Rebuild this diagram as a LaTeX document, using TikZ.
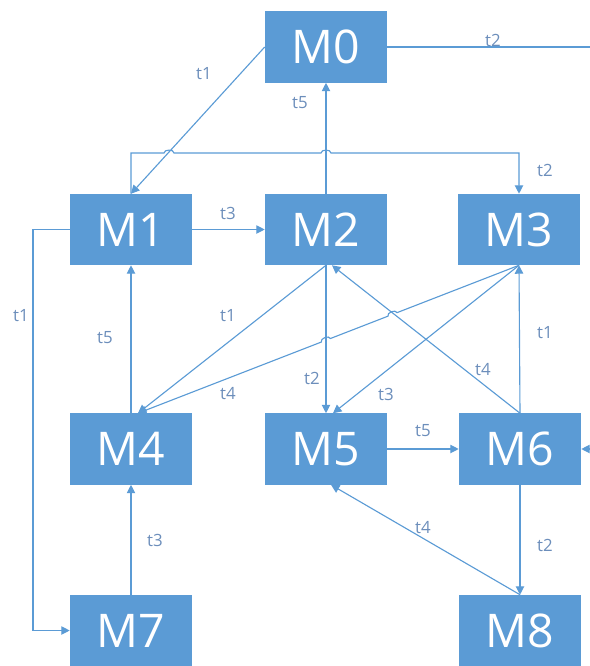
\documentclass[tikz,border=0pt]{standalone}
\usepackage{fontspec}
\setmainfont{Open Sans}
\usetikzlibrary{arrows.meta,calc}
\definecolor{boxblue}{HTML}{5B9BD5}
\definecolor{labelblue}{HTML}{6C8EBB}

\begin{document}
\begin{tikzpicture}[x=0.025cm, y=-0.025cm,
  main/.style = {fill=boxblue, text=white, inner sep=0pt, minimum width=3.05cm, minimum height=1.775cm, font=\fontsize{33}{33}\selectfont},
  edge/.style = {draw=boxblue, line width=0.8pt, -{Triangle[length=6pt,width=6pt]}},
  lbl/.style = {text=labelblue, font=\fontsize{12}{12}\selectfont}]
		\useasboundingbox (0,0) rectangle (590,666);
		\node[main] (M0) at (326,47) {M0};
		\node[main] (M1) at (131,229.5) {M1};
		\node[main] (M2) at (326,229.5) {M2};
		\node[main] (M3) at (519,229.5) {M3};
		\node[main] (M4) at (131,449) {M4};
		\node[main] (M5) at (326,449) {M5};
		\node[main] (M6) at (520,449) {M6};
		\node[main] (M7) at (131,630.5) {M7};
		\node[main] (M8) at (520,630.5) {M8};
		\coordinate (M4in) at ($(M4.north)+(7,0)$);
		\coordinate (M5in) at ($(M5.north)+(7,0)$);
		\coordinate (M2out) at ($(M2.south)+(6,0)$);
		\coordinate (M5out) at ($(M5.south)+(5,0)$);
		
		\draw[edge] (M0.west) -- (M1.north) node[lbl] at (204,74) {t1};
		\draw[edge] (M0.east) -- (598,47) node[lbl] at (493,40) {t2} |- (M6.east);
		\draw[edge] (M2.north) -- (M0.south) node[lbl] at (300,103) {t5};
		\draw[edge] (M1.north) |- (164,153) to[bend left=90] (174,153) -- (321,153) to[bend left=90] (331,153) -| (M3.north) node[lbl] at (545,170) {t2};
		\draw[edge] (M1.east) -- (M2.west) node[lbl] at (228,213) {t3};
		\draw[edge] (M1.west) -- (33,229.5) |- (M7.west) node[lbl] at (21,316) {t1};
		\draw[edge] (M4.north) -- (M1.south) node[lbl] at (105,338) {t5};
		\draw[edge] (M2.south) -- (M4in) node[lbl] at (228,316) {t1};
		\draw[edge] (M3.south) -- ($(M3.south)!0.320!(M4in)$) to[bend right=90] ($(M3.south)!0.344!(M4in)$) -- ($(M3.south)!0.495!(M4in)$) to[bend right=90] ($(M3.south)!0.519!(M4in)$) -- (M4in) node[lbl] at (228,394) {t4};
		\draw[edge] (M2.south) -- (M5.north) node[lbl] at (312,378) {t2};
		\draw[edge] (M3.south) -- (M5in) node[lbl] at (386,394) {t3};
		\draw[edge] (M6.north) -- (M2out) node[lbl] at (483,370) {t4};
		\draw[edge] (M6.north) -- (M3.south) node[lbl] at (545,333) {t1};
		\draw[edge] (M5.east) -- (M6.west) node[lbl] at (423,431) {t5};
		\draw[edge] (M8.north) -- (M5out) node[lbl] at (423,528) {t4};
		\draw[edge] (M6.south) -- (M8.north) node[lbl] at (545,545) {t2};
		\draw[edge] (M7.north) -- (M4.south) node[lbl] at (155,540) {t3};
		\end{tikzpicture}
\end{document}
